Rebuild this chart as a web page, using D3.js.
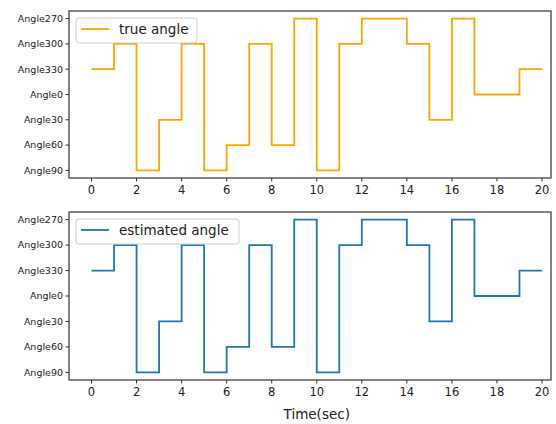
<!DOCTYPE html>
<html>
<head>
<meta charset="utf-8">
<script src="https://cdn.jsdelivr.net/npm/d3@7"></script>
<style>
  body { margin: 0; background: #fff; }
  .ytick text { font-family: "DejaVu Sans", sans-serif; font-size: 9.5px; fill: #222; }
  .xtick text { font-family: "DejaVu Sans", sans-serif; font-size: 11.5px; fill: #222; }
  .legend { font-family: "DejaVu Sans", sans-serif; font-size: 13.5px; fill: #222; }
  .xlabel { font-family: "DejaVu Sans", sans-serif; font-size: 13.5px; fill: #222; }
</style>
</head>
<body>
<div id="chart"></div>
<script>
const width = 556;
const height = 424;

// categories, bottom to top
const angleCats = ["Angle90", "Angle60", "Angle30", "Angle0", "Angle330", "Angle300", "Angle270"];
const times = [0,1,2,3,4,5,6,7,8,9,10,11,12,13,14,15,16,17,18,19,20];
const xTicks = [0,2,4,6,8,10,12,14,16,18,20];

const trueAngle = ["Angle330","Angle300","Angle90","Angle30","Angle300","Angle90","Angle60","Angle300","Angle60","Angle270",
   "Angle90","Angle300","Angle270","Angle270","Angle300","Angle30","Angle270","Angle0","Angle0","Angle330","Angle330"];
const estAngle = ["Angle330","Angle300","Angle90","Angle30","Angle300","Angle90","Angle60","Angle300","Angle60","Angle270",
   "Angle90","Angle300","Angle270","Angle270","Angle300","Angle30","Angle270","Angle0","Angle0","Angle330","Angle330"];

const svg = d3.select("#chart").append("svg")
   .attr("width", width)
   .attr("height", height);

const left = 69, right = 551;

const x = d3.scaleLinear()
   .domain([-1, 20.4])
   .range([left, right]);

const panels = [
   {top: 11, bottom: 178, values: trueAngle, color: "#ffa500", label: "true angle", legendW: 121},
   {top: 212, bottom: 380, values: estAngle, color: "#1f77b4", label: "estimated angle", legendW: 163}
];

panels.forEach((p, pi) => {
   const g = svg.append("g");

   const y = d3.scalePoint()
      .domain(angleCats)
      .range([p.bottom, p.top])
      .padding(0.3);

   // y ticks
   const yt = g.append("g").attr("class", "ytick");
   angleCats.forEach(c => {
      yt.append("line")
         .attr("x1", left).attr("x2", left - 3.5)
         .attr("y1", y(c)).attr("y2", y(c))
         .attr("stroke", "#333").attr("stroke-width", 1);
      yt.append("text")
         .attr("x", left - 6)
         .attr("y", y(c))
         .attr("dy", "0.35em")
         .style("text-anchor", "end")
         .text(c);
   });

   // x ticks
   const xt = g.append("g").attr("class", "xtick");
   xTicks.forEach(t => {
      xt.append("line")
         .attr("x1", x(t)).attr("x2", x(t))
         .attr("y1", p.bottom).attr("y2", p.bottom + 3.5)
         .attr("stroke", "#333").attr("stroke-width", 1);
      xt.append("text")
         .attr("x", x(t))
         .attr("y", p.bottom + 16)
         .style("text-anchor", "middle")
         .text(t);
   });

   // line
   const line = d3.line()
      .x((d, i) => x(times[i]))
      .y(d => y(d))
      .curve(d3.curveStepAfter);

   g.append("path")
      .datum(p.values)
      .attr("d", line)
      .attr("fill", "none")
      .attr("stroke", p.color)
      .attr("stroke-width", 1.8);

   // frame
   g.append("rect")
      .attr("x", left).attr("y", p.top)
      .attr("width", right - left).attr("height", p.bottom - p.top)
      .attr("fill", "none")
      .attr("stroke", "#333")
      .attr("stroke-width", 1.2);

   // legend
   const lg = g.append("g").attr("transform", `translate(${left + 7},${p.top + 7})`);
   lg.append("rect")
      .attr("width", p.legendW).attr("height", 25)
      .attr("rx", 3)
      .attr("fill", "#fff").attr("fill-opacity", 0.8)
      .attr("stroke", "#ccc");
   lg.append("line")
      .attr("x1", 5).attr("x2", 33)
      .attr("y1", 11).attr("y2", 11)
      .attr("stroke", p.color).attr("stroke-width", 1.8);
   lg.append("text")
      .attr("class", "legend")
      .attr("x", 43).attr("y", 11)
      .attr("dy", "0.35em")
      .text(p.label);
});

svg.append("text")
   .attr("class", "xlabel")
   .attr("x", x(10))
   .attr("y", 419)
   .style("text-anchor", "middle")
   .text("Time(sec)");
</script>
</body>
</html>
